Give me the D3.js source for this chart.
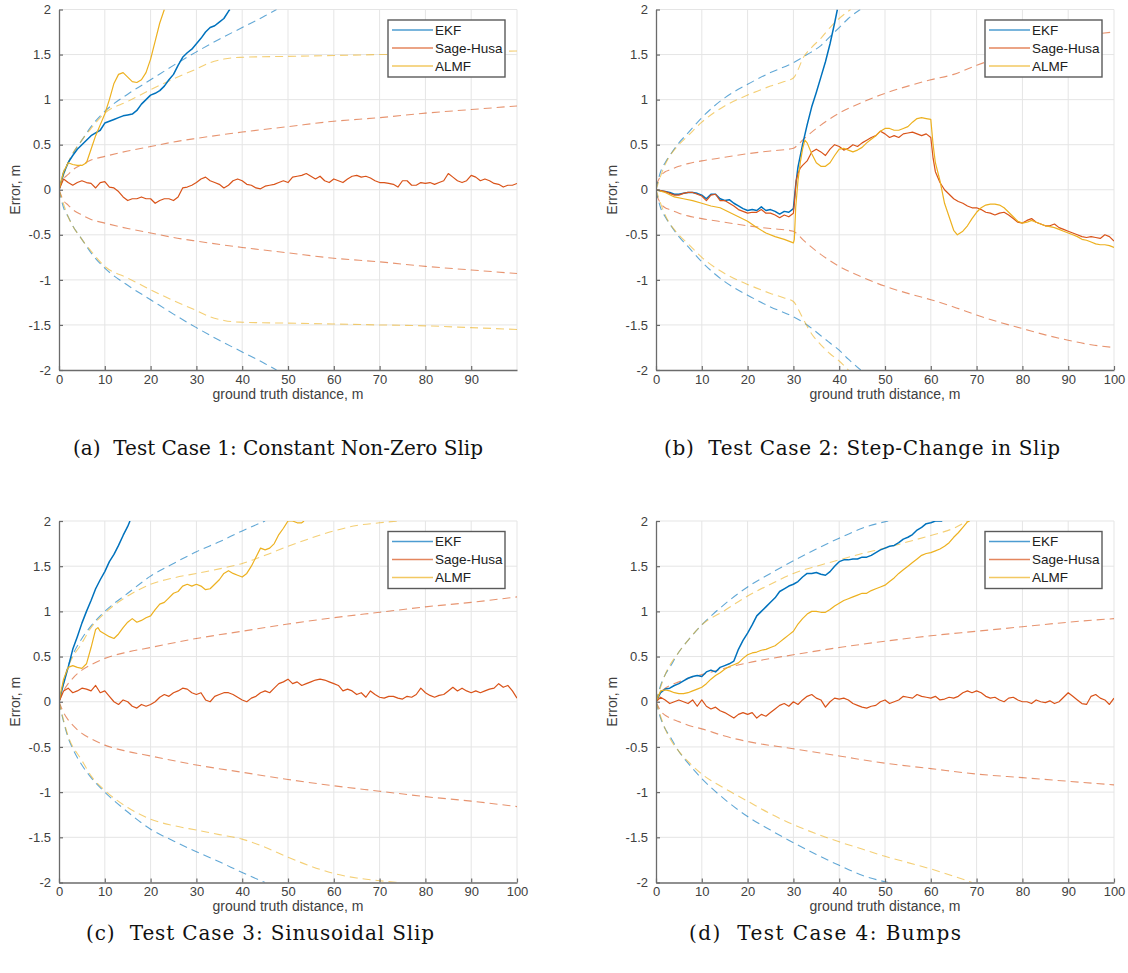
<!DOCTYPE html>
<html><head><meta charset="utf-8">
<script src="https://cdn.jsdelivr.net/npm/d3@7"></script>
<style>body{margin:0;background:#fff;}svg{display:block}</style>
</head><body>
<svg id="chart" width="1128" height="973"></svg>
<script>
// ---------------- DATA ----------------
const seriesNames = ["EKF", "Sage-Husa", "ALMF"];
const yTicks = [-2, -1.5, -1, -0.5, 0, 0.5, 1, 1.5, 2];
const yTickLabels = ["-2", "-1.5", "-1", "-0.5", "0", "0.5", "1", "1.5", "2"];
const xTicksA = [0, 10, 20, 30, 40, 50, 60, 70, 80, 90];
const xTicksFull = [0, 10, 20, 30, 40, 50, 60, 70, 80, 90, 100];
const captions = [
  "(a)  Test Case 1: Constant Non-Zero Slip",
  "(b)  Test Case 2: Step-Change in Slip",
  "(c)  Test Case 3: Sinusoidal Slip",
  "(d)  Test Case 4: Bumps"
];
const dist = d3.range(0, 101); // ground-truth distance samples (m) for dense series

// ---- (a) Constant Non-Zero Slip ----
const a_ekf = [[0,0],[1,0.18],[2,0.3],[3,0.38],[4,0.45],[5,0.5],[6,0.55],[7,0.6],[8,0.63],[9,0.66],[10,0.74],[11,0.76],[12,0.78],[13,0.8],[14,0.82],[15,0.83],[16,0.84],[17,0.88],[18,0.95],[19,1.0],[20,1.05],[21,1.07],[22,1.1],[23,1.15],[24,1.22],[25,1.28],[26,1.38],[27,1.47],[28,1.52],[29,1.56],[30,1.62],[31,1.68],[32,1.75],[33,1.8],[34,1.82],[35,1.86],[36,1.9],[37,1.98],[37.3,2.0]];
const a_sh = [0,0.12,0.08,0.05,0.08,0.1,0.08,0.07,0.02,0.08,0.09,0.03,0.02,-0.02,-0.08,-0.12,-0.1,-0.1,-0.08,-0.1,-0.1,-0.15,-0.12,-0.1,-0.1,-0.12,-0.08,0.02,0.03,0.05,0.08,0.12,0.14,0.1,0.08,0.06,0.02,0.05,0.1,0.12,0.1,0.06,0.05,0.02,0.01,0.04,0.05,0.06,0.08,0.1,0.08,0.14,0.15,0.16,0.18,0.15,0.12,0.15,0.1,0.08,0.12,0.1,0.08,0.12,0.15,0.16,0.14,0.15,0.13,0.1,0.08,0.08,0.07,0.06,0.03,0.1,0.1,0.05,0.05,0.08,0.07,0.08,0.06,0.08,0.1,0.18,0.14,0.1,0.08,0.1,0.16,0.14,0.1,0.12,0.1,0.07,0.06,0.03,0.05,0.05,0.07];
const a_almf = [[0,0],[1,0.2],[2,0.3],[3,0.28],[4,0.27],[5,0.27],[6,0.3],[7,0.45],[8,0.6],[9,0.72],[10,0.84],[11,1.0],[12,1.18],[13,1.28],[14,1.3],[15,1.25],[16,1.2],[17,1.19],[18,1.22],[19,1.3],[20,1.45],[21,1.65],[22,1.85],[23,2.0]];
const a_ekf_ub = [[0,0],[1,0.2],[2,0.3],[3,0.4],[5,0.55],[7,0.7],[10,0.87],[15,1.06],[20,1.22],[25,1.38],[30,1.53],[35,1.67],[40,1.8],[45,1.93],[47.5,2.0]];
const a_ekf_lb = [[0,0],[1,-0.2],[2,-0.3],[3,-0.4],[5,-0.55],[7,-0.7],[10,-0.87],[15,-1.06],[20,-1.22],[25,-1.38],[30,-1.53],[35,-1.67],[40,-1.8],[45,-1.93],[47.5,-2.0]];
const a_sh_ub = [[0,0],[1,0.12],[2,0.17],[3,0.22],[5,0.28],[7,0.33],[10,0.37],[15,0.43],[20,0.48],[25,0.53],[30,0.57],[40,0.64],[50,0.7],[60,0.76],[70,0.8],[80,0.85],[90,0.89],[100,0.93]];
const a_sh_lb = [[0,0],[1,-0.12],[2,-0.17],[3,-0.22],[5,-0.28],[7,-0.33],[10,-0.37],[15,-0.43],[20,-0.48],[25,-0.53],[30,-0.57],[40,-0.64],[50,-0.7],[60,-0.76],[70,-0.8],[80,-0.85],[90,-0.89],[100,-0.93]];
const a_almf_ub = [[0,0],[2,0.3],[5,0.55],[7,0.68],[10,0.85],[15,0.98],[20,1.11],[25,1.23],[30,1.34],[33,1.41],[36,1.45],[38,1.465],[40,1.47],[50,1.48],[60,1.49],[70,1.5],[80,1.51],[90,1.53],[100,1.54]];
const a_almf_lb = [[0,0],[2,-0.3],[5,-0.55],[7,-0.68],[10,-0.85],[15,-0.98],[20,-1.11],[25,-1.23],[30,-1.34],[33,-1.41],[36,-1.45],[38,-1.465],[40,-1.47],[50,-1.48],[60,-1.49],[70,-1.5],[80,-1.51],[90,-1.53],[100,-1.55]];

// ---- (b) Step-Change in Slip ----
const b_ekf = [[0,0],[1,-0.01],[2,-0.02],[3,-0.03],[4,-0.05],[5,-0.05],[6,-0.04],[7,-0.03],[8,-0.03],[9,-0.04],[10,-0.06],[11,-0.1],[12,-0.05],[13,-0.05],[14,-0.1],[15,-0.12],[16,-0.11],[17,-0.15],[18,-0.18],[19,-0.21],[20,-0.23],[21,-0.22],[22,-0.23],[23,-0.19],[24,-0.23],[25,-0.22],[26,-0.24],[27,-0.27],[28,-0.24],[29,-0.25],[30,-0.21],[30.5,0.05],[31,0.25],[32,0.5],[33,0.72],[34,0.92],[35,1.08],[36,1.25],[37,1.42],[38,1.62],[39,1.85],[39.6,2.0]];
const b_sh = [[0,0],[1,-0.01],[2,-0.02],[3,-0.04],[4,-0.06],[5,-0.06],[6,-0.04],[7,-0.03],[8,-0.03],[9,-0.05],[10,-0.07],[11,-0.12],[12,-0.06],[13,-0.05],[14,-0.12],[15,-0.12],[16,-0.15],[17,-0.18],[18,-0.22],[19,-0.24],[20,-0.26],[21,-0.25],[22,-0.25],[23,-0.22],[24,-0.26],[25,-0.26],[26,-0.28],[27,-0.31],[28,-0.28],[29,-0.3],[30,-0.26],[30.3,-0.1],[30.6,0.1],[31,0.18],[31.5,0.24],[32,0.27],[33,0.32],[34,0.42],[35,0.45],[36,0.42],[37,0.38],[38,0.45],[39,0.5],[40,0.48],[41,0.44],[42,0.46],[43,0.5],[44,0.48],[45,0.52],[46,0.55],[47,0.58],[48,0.6],[49,0.65],[50,0.62],[51,0.58],[52,0.6],[53,0.58],[54,0.62],[55,0.63],[56,0.64],[57,0.62],[58,0.6],[59,0.62],[60,0.58],[60.5,0.35],[61,0.2],[62,0.08],[63,0.0],[64,-0.05],[65,-0.1],[66,-0.13],[67,-0.15],[68,-0.18],[69,-0.2],[70,-0.2],[71,-0.22],[72,-0.25],[73,-0.26],[74,-0.28],[75,-0.26],[76,-0.25],[77,-0.28],[78,-0.32],[79,-0.36],[80,-0.37],[81,-0.34],[82,-0.32],[83,-0.36],[84,-0.38],[85,-0.4],[86,-0.4],[87,-0.38],[88,-0.42],[89,-0.44],[90,-0.46],[91,-0.48],[92,-0.5],[93,-0.52],[94,-0.53],[95,-0.52],[96,-0.53],[97,-0.54],[98,-0.5],[99,-0.52],[100,-0.57]];
const b_almf = [[0,0],[2,-0.03],[4,-0.08],[6,-0.1],[8,-0.12],[10,-0.15],[12,-0.18],[14,-0.2],[16,-0.25],[18,-0.3],[20,-0.35],[22,-0.42],[24,-0.48],[26,-0.52],[28,-0.55],[30,-0.59],[30.2,-0.55],[30.5,-0.2],[31,0.1],[31.5,0.3],[32,0.45],[32.5,0.55],[33,0.52],[34,0.4],[35,0.3],[36,0.26],[37,0.26],[38,0.3],[39,0.38],[40,0.45],[41,0.46],[42,0.44],[43,0.42],[44,0.44],[45,0.47],[46,0.52],[47,0.56],[48,0.6],[49,0.65],[50,0.68],[51,0.68],[52,0.66],[53,0.66],[54,0.68],[55,0.7],[56,0.75],[57,0.79],[58,0.8],[59,0.79],[60,0.78],[60.5,0.5],[61,0.3],[62,0.1],[63,-0.15],[64,-0.3],[65,-0.45],[65.8,-0.5],[67,-0.46],[68,-0.4],[69,-0.32],[70,-0.25],[71,-0.2],[72,-0.17],[73,-0.16],[74,-0.16],[75,-0.17],[76,-0.2],[77,-0.25],[78,-0.3],[79,-0.35],[80,-0.37],[81,-0.36],[82,-0.34],[83,-0.36],[84,-0.38],[85,-0.4],[86,-0.41],[87,-0.42],[88,-0.44],[89,-0.46],[90,-0.48],[91,-0.5],[92,-0.52],[93,-0.55],[94,-0.56],[95,-0.58],[96,-0.6],[97,-0.61],[98,-0.61],[99,-0.62],[100,-0.64]];
const b_ekf_ub = [[0,0],[1,0.2],[2,0.3],[3,0.38],[5,0.52],[7,0.63],[10,0.8],[15,1.02],[20,1.17],[25,1.3],[30,1.41],[33,1.5],[36,1.6],[38,1.7],[40,1.8],[42,1.9],[44.6,2.0]];
const b_ekf_lb = [[0,0],[1,-0.2],[2,-0.3],[3,-0.38],[5,-0.52],[7,-0.63],[10,-0.8],[15,-1.02],[20,-1.17],[25,-1.3],[30,-1.41],[33,-1.5],[36,-1.62],[38,-1.7],[40,-1.78],[42,-1.88],[44.7,-2.0]];
const b_sh_ub = [[0,0.05],[1,0.15],[2,0.2],[3,0.22],[5,0.26],[7,0.29],[10,0.32],[15,0.36],[20,0.4],[25,0.43],[30,0.46],[31,0.5],[32,0.55],[35,0.68],[40,0.85],[45,0.97],[50,1.07],[55,1.15],[60,1.22],[65,1.28],[70,1.38],[75,1.47],[80,1.54],[85,1.61],[90,1.67],[95,1.72],[100,1.75]];
const b_sh_lb = [[0,-0.05],[1,-0.15],[2,-0.2],[3,-0.22],[5,-0.26],[7,-0.29],[10,-0.32],[15,-0.36],[20,-0.4],[25,-0.43],[30,-0.46],[31,-0.5],[32,-0.55],[35,-0.68],[40,-0.85],[45,-0.97],[50,-1.07],[55,-1.15],[60,-1.22],[65,-1.3],[70,-1.39],[75,-1.47],[80,-1.54],[85,-1.61],[90,-1.67],[95,-1.72],[100,-1.75]];
const b_almf_ub = [[0,0],[2,0.28],[5,0.5],[7,0.6],[10,0.75],[15,0.93],[20,1.05],[25,1.15],[28,1.2],[30,1.24],[31,1.33],[32,1.45],[34,1.58],[36,1.68],[38,1.8],[40,1.9],[42.5,2.0]];
const b_almf_lb = [[0,0],[2,-0.28],[5,-0.5],[7,-0.6],[10,-0.75],[15,-0.93],[20,-1.05],[25,-1.15],[28,-1.2],[30,-1.24],[31,-1.32],[32,-1.42],[34,-1.6],[36,-1.72],[38,-1.82],[40,-1.9],[42,-2.0]];

// ---- (c) Sinusoidal Slip ----
const c_ekf = [[0,0],[1,0.2],[2,0.38],[3,0.58],[4,0.72],[5,0.87],[6,1.0],[7,1.12],[8,1.25],[9,1.35],[10,1.44],[11,1.55],[12,1.63],[13,1.73],[14,1.84],[15,1.94],[15.5,2.0]];
const c_sh = [0,0.12,0.15,0.1,0.12,0.15,0.14,0.12,0.18,0.1,0.12,0.06,0.0,-0.03,0.02,0.0,-0.05,-0.07,-0.03,-0.05,-0.03,0.0,0.05,0.08,0.06,0.1,0.12,0.15,0.14,0.1,0.08,0.1,0.02,0.0,0.06,0.08,0.1,0.1,0.08,0.05,0.02,0.0,0.04,0.06,0.1,0.12,0.1,0.15,0.2,0.22,0.25,0.2,0.22,0.18,0.2,0.22,0.24,0.25,0.24,0.22,0.2,0.18,0.12,0.14,0.12,0.08,0.1,0.05,0.12,0.08,0.05,0.04,0.06,0.06,0.04,0.03,0.06,0.05,0.08,0.15,0.1,0.07,0.05,0.07,0.08,0.12,0.16,0.12,0.15,0.12,0.1,0.12,0.1,0.12,0.14,0.15,0.2,0.16,0.18,0.12,0.04];
const c_almf = [[0,0],[1,0.25],[2,0.38],[3,0.4],[4,0.38],[5,0.37],[6,0.42],[7,0.6],[8,0.8],[8.5,0.82],[9,0.78],[10,0.75],[11,0.72],[12,0.7],[13,0.75],[14,0.82],[15,0.88],[16,0.92],[17,0.88],[18,0.9],[19,0.93],[20,0.95],[21,1.02],[22,1.08],[23,1.1],[24,1.15],[25,1.2],[26,1.22],[27,1.28],[28,1.3],[29,1.28],[30,1.3],[31,1.28],[32,1.24],[33,1.25],[34,1.3],[35,1.35],[36,1.42],[37,1.45],[38,1.42],[39,1.4],[40,1.38],[41,1.42],[42,1.5],[43,1.6],[44,1.7],[45,1.68],[46,1.7],[47,1.75],[48,1.85],[49,1.92],[50,2.0],[51,2.0],[52,1.98],[53,1.98],[53.5,2.0]];
const c_ekf_ub = [[0,0],[1,0.22],[2,0.4],[3,0.52],[5,0.7],[7,0.84],[10,1.0],[15,1.2],[20,1.39],[25,1.53],[30,1.66],[35,1.77],[40,1.89],[45,2.0]];
const c_ekf_lb = [[0,0],[1,-0.22],[2,-0.4],[3,-0.52],[5,-0.7],[7,-0.84],[10,-1.0],[15,-1.22],[20,-1.41],[25,-1.54],[30,-1.66],[35,-1.77],[40,-1.89],[45,-2.0]];
const c_sh_ub = [[0,0],[1,0.12],[2,0.2],[3,0.26],[5,0.35],[7,0.41],[10,0.48],[15,0.55],[20,0.6],[30,0.7],[40,0.78],[50,0.86],[60,0.93],[70,0.99],[80,1.05],[90,1.1],[100,1.16]];
const c_sh_lb = [[0,0],[1,-0.12],[2,-0.2],[3,-0.26],[5,-0.35],[7,-0.41],[10,-0.48],[15,-0.55],[20,-0.6],[30,-0.7],[40,-0.78],[50,-0.86],[60,-0.93],[70,-0.99],[80,-1.05],[90,-1.1],[100,-1.16]];
const c_almf_ub = [[0,0],[2,0.38],[5,0.65],[7,0.82],[10,0.98],[15,1.17],[20,1.3],[25,1.37],[30,1.42],[35,1.47],[40,1.53],[45,1.62],[50,1.72],[55,1.81],[60,1.89],[65,1.95],[70,1.98],[74,2.0]];
const c_almf_lb = [[0,0],[2,-0.38],[5,-0.65],[7,-0.82],[10,-0.98],[15,-1.17],[20,-1.3],[25,-1.37],[30,-1.42],[35,-1.47],[40,-1.52],[45,-1.61],[50,-1.72],[55,-1.82],[60,-1.9],[65,-1.95],[70,-1.98],[74,-2.0]];

// ---- (d) Bumps ----
const d_ekf = [[0,0],[1,0.1],[2,0.14],[3,0.15],[4,0.18],[5,0.2],[6,0.23],[7,0.26],[8,0.28],[9,0.29],[10,0.28],[11,0.33],[12,0.35],[13,0.33],[14,0.38],[15,0.4],[16,0.42],[17,0.45],[18,0.58],[19,0.68],[20,0.76],[21,0.85],[22,0.95],[23,1.0],[24,1.05],[25,1.1],[26,1.15],[27,1.22],[28,1.25],[29,1.28],[30,1.3],[31,1.33],[32,1.38],[33,1.42],[34,1.42],[35,1.43],[36,1.41],[37,1.4],[38,1.44],[39,1.5],[40,1.55],[41,1.57],[42,1.57],[43,1.58],[44,1.58],[45,1.6],[46,1.6],[47,1.62],[48,1.65],[49,1.68],[50,1.7],[51,1.72],[52,1.73],[53,1.76],[54,1.8],[55,1.82],[56,1.85],[57,1.9],[58,1.93],[59,1.97],[60,1.98],[61,2.0],[62.5,2.0]];
const d_sh = [0,0.05,0.02,-0.02,0.0,0.02,0.0,-0.02,0.02,-0.05,0.02,-0.05,-0.08,-0.06,-0.1,-0.12,-0.15,-0.18,-0.14,-0.12,-0.14,-0.12,-0.18,-0.14,-0.16,-0.12,-0.08,-0.04,-0.02,-0.05,0.0,-0.03,0.02,0.06,0.08,0.04,0.02,-0.06,0.0,0.04,0.03,0.04,0.02,-0.02,-0.04,-0.06,-0.07,-0.05,-0.04,0.0,0.02,-0.02,0.0,0.02,0.06,0.05,0.04,0.08,0.06,0.05,0.04,0.06,0.02,0.03,0.05,0.04,0.06,0.1,0.12,0.1,0.12,0.1,0.06,0.04,0.05,0.02,0.0,0.04,0.05,0.02,0.0,0.0,-0.02,0.02,0.0,-0.01,0.01,-0.02,0.0,0.05,0.1,0.06,0.02,-0.02,-0.03,0.06,0.08,0.04,0.02,-0.03,0.04];
const d_almf = [[0,0],[1,0.12],[2,0.13],[3,0.12],[4,0.1],[5,0.09],[6,0.09],[7,0.1],[8,0.12],[9,0.14],[10,0.16],[11,0.2],[12,0.25],[13,0.29],[14,0.32],[15,0.36],[16,0.39],[17,0.41],[18,0.43],[19,0.48],[20,0.52],[21,0.54],[22,0.55],[23,0.57],[24,0.58],[25,0.6],[26,0.62],[27,0.66],[28,0.7],[29,0.74],[30,0.78],[31,0.86],[32,0.92],[33,0.97],[34,1.0],[35,1.0],[36,0.99],[37,0.99],[38,1.02],[39,1.06],[40,1.09],[41,1.12],[42,1.14],[43,1.16],[44,1.18],[45,1.2],[46,1.2],[47,1.23],[48,1.25],[49,1.27],[50,1.29],[51,1.33],[52,1.37],[53,1.42],[54,1.46],[55,1.5],[56,1.54],[57,1.58],[58,1.62],[59,1.64],[60,1.65],[61,1.67],[62,1.69],[63,1.72],[64,1.76],[65,1.82],[66,1.87],[67,1.93],[68,1.99],[68.5,2.0]];
const d_ekf_ub = [[0,0],[1,0.18],[2,0.3],[3,0.38],[5,0.55],[7,0.68],[10,0.85],[15,1.08],[20,1.27],[25,1.42],[30,1.56],[35,1.69],[40,1.81],[45,1.92],[50.7,2.0]];
const d_ekf_lb = [[0,0],[1,-0.18],[2,-0.3],[3,-0.38],[5,-0.55],[7,-0.68],[10,-0.85],[15,-1.08],[20,-1.27],[25,-1.42],[30,-1.56],[35,-1.69],[40,-1.81],[45,-1.92],[50.7,-2.0]];
const d_sh_ub = [[0,0],[1,0.1],[2,0.15],[3,0.18],[5,0.22],[7,0.26],[10,0.3],[15,0.37],[20,0.43],[30,0.52],[40,0.6],[50,0.67],[60,0.73],[70,0.78],[80,0.83],[90,0.88],[100,0.92]];
const d_sh_lb = [[0,0],[1,-0.1],[2,-0.15],[3,-0.18],[5,-0.22],[7,-0.26],[10,-0.3],[15,-0.38],[20,-0.44],[30,-0.52],[40,-0.6],[50,-0.68],[60,-0.74],[70,-0.8],[80,-0.84],[90,-0.88],[100,-0.92]];
const d_almf_ub = [[0,0],[2,0.3],[5,0.55],[7,0.68],[10,0.85],[15,1.01],[20,1.17],[25,1.3],[30,1.42],[35,1.5],[40,1.57],[45,1.64],[50,1.7],[55,1.77],[60,1.84],[65,1.92],[68,2.0]];
const d_almf_lb = [[0,0],[2,-0.3],[5,-0.55],[7,-0.66],[10,-0.8],[15,-0.96],[20,-1.1],[25,-1.24],[30,-1.36],[35,-1.46],[40,-1.55],[45,-1.63],[50,-1.71],[55,-1.78],[60,-1.85],[65,-1.93],[69,-2.0]];

// ---------------- LAYOUT / STYLE ----------------
const colors = {"EKF": "#0072BD", "Sage-Husa": "#D95319", "ALMF": "#EDB120"};
const axisFont = "'Liberation Sans', Arial, sans-serif";
const capFont = "'DejaVu Serif', serif";

const withDist = arr => arr.map((v, i) => [dist[i], v]);

const panels = [
  {left: 59, top: 9.5, width: 458, height: 360.5, xTicks: xTicksA, caption: captions[0], capX: 278, capY: 455, capW: 410,
   solid: {"EKF": a_ekf, "Sage-Husa": withDist(a_sh), "ALMF": a_almf},
   bounds: {"EKF": [a_ekf_ub, a_ekf_lb], "Sage-Husa": [a_sh_ub, a_sh_lb], "ALMF": [a_almf_ub, a_almf_lb]}},
  {left: 656, top: 9.5, width: 458, height: 360.5, xTicks: xTicksFull, caption: captions[1], capX: 862, capY: 455, capW: 396,
   solid: {"EKF": b_ekf, "Sage-Husa": b_sh, "ALMF": b_almf},
   bounds: {"EKF": [b_ekf_ub, b_ekf_lb], "Sage-Husa": [b_sh_ub, b_sh_lb], "ALMF": [b_almf_ub, b_almf_lb]}},
  {left: 59, top: 521, width: 458, height: 361.5, xTicks: xTicksFull, caption: captions[2], capX: 260, capY: 940, capW: 348,
   solid: {"EKF": c_ekf, "Sage-Husa": withDist(c_sh), "ALMF": c_almf},
   bounds: {"EKF": [c_ekf_ub, c_ekf_lb], "Sage-Husa": [c_sh_ub, c_sh_lb], "ALMF": [c_almf_ub, c_almf_lb]}},
  {left: 656, top: 521, width: 458, height: 361.5, xTicks: xTicksFull, caption: captions[3], capX: 825, capY: 940, capW: 272,
   solid: {"EKF": d_ekf, "Sage-Husa": withDist(d_sh), "ALMF": d_almf},
   bounds: {"EKF": [d_ekf_ub, d_ekf_lb], "Sage-Husa": [d_sh_ub, d_sh_lb], "ALMF": [d_almf_ub, d_almf_lb]}}
];

const svg = d3.select("#chart");
svg.append("rect").attr("width", 1128).attr("height", 973).attr("fill", "#fff");

panels.forEach((p, pi) => {
  const x = d3.scaleLinear().domain([0, 100]).range([0, p.width]);
  const y = d3.scaleLinear().domain([-2, 2]).range([p.height, 0]);
  const g = svg.append("g").attr("transform", `translate(${p.left},${p.top})`);

  // grid
  const grid = g.append("g");
  grid.selectAll(".vg").data(p.xTicks.filter(t => t > 0).concat(pi === 0 ? [100] : [])).join("line")
    .attr("x1", d => x(d)).attr("x2", d => x(d)).attr("y1", 0).attr("y2", p.height)
    .attr("stroke", "#e5e5e5").attr("stroke-width", 1);
  grid.selectAll(".hg").data(yTicks.filter(t => t > -2)).join("line")
    .attr("x1", 0).attr("x2", p.width).attr("y1", d => y(d)).attr("y2", d => y(d))
    .attr("stroke", "#e5e5e5").attr("stroke-width", 1);

  // clip
  const clipId = "clip" + pi;
  g.append("clipPath").attr("id", clipId).append("rect")
    .attr("x", 0).attr("y", 0).attr("width", p.width).attr("height", p.height);
  const plot = g.append("g").attr("clip-path", `url(#${clipId})`);

  const line = d3.line().x(d => x(d[0])).y(d => y(d[1]));
  const smooth = d3.line().x(d => x(d[0])).y(d => y(d[1])).curve(d3.curveMonotoneX);

  // dashed bounds
  ["Sage-Husa", "EKF", "ALMF"].forEach(name => {
    p.bounds[name].forEach(b => {
      plot.append("path").datum(b).attr("d", smooth)
        .attr("fill", "none").attr("stroke", colors[name]).attr("stroke-opacity", 0.62)
        .attr("stroke-width", 1.1).attr("stroke-dasharray", "8,5");
    });
  });
  // solid estimates
  seriesNames.forEach(name => {
    plot.append("path").datum(p.solid[name]).attr("d", line)
      .attr("fill", "none").attr("stroke", colors[name])
      .attr("stroke-width", name === "EKF" ? 1.5 : 1.2).attr("stroke-linejoin", "round");
  });

  // axes
  const xAxis = d3.axisBottom(x).tickValues(p.xTicks).tickSize(-4).tickSizeOuter(0).tickPadding(4)
    .tickFormat(d3.format("d"));
  const gx = g.append("g").attr("transform", `translate(0,${p.height})`).call(xAxis);
  const yAxis = d3.axisLeft(y).tickValues(yTicks).tickSize(-4).tickSizeOuter(0).tickPadding(8)
    .tickFormat((d, i) => yTickLabels[i]);
  const gy = g.append("g").call(yAxis);
  [gx, gy].forEach(ax => {
    ax.select(".domain").attr("stroke", "#6b6b6b").attr("stroke-width", 1.3);
    ax.selectAll(".tick line").attr("stroke", "#6b6b6b").attr("stroke-width", 1.2);
    ax.selectAll(".tick text").attr("fill", "#404040").style("font-family", axisFont).style("font-size", "13px");
  });
  gx.selectAll(".tick text").attr("y", 0).attr("dy", "13.5");

  // axis titles
  g.append("text").attr("x", p.width / 2).attr("y", p.height + 28.5)
    .attr("text-anchor", "middle").attr("fill", "#404040")
    .style("font-family", axisFont).style("font-size", "14px").text("ground truth distance, m");
  g.append("text").attr("transform", `translate(${-39},${p.height / 2}) rotate(-90)`)
    .attr("text-anchor", "middle").attr("fill", "#404040")
    .style("font-family", axisFont).style("font-size", "14px").text("Error, m");

  // legend
  const lg = g.append("g").attr("transform", "translate(329,10.5)");
  lg.append("rect").attr("width", 117).attr("height", 57).attr("fill", "#fff")
    .attr("stroke", "#5a5a5a").attr("stroke-width", 1.4);
  seriesNames.forEach((name, i) => {
    const yy = 10 + i * 18;
    lg.append("line").attr("x1", 4).attr("x2", 45).attr("y1", yy).attr("y2", yy)
      .attr("stroke", colors[name]).attr("stroke-opacity", 0.7).attr("stroke-width", 1.3);
    lg.append("text").attr("x", 47).attr("y", yy + 4.8).attr("fill", "#202020")
      .style("font-family", axisFont).style("font-size", "13.5px").text(name);
  });

  // caption
  svg.append("text").attr("x", p.capX).attr("y", p.capY).attr("text-anchor", "middle")
    .attr("fill", "#111").style("font-family", capFont).style("font-size", "20px")
    .attr("textLength", p.capW).attr("lengthAdjust", "spacing")
    .attr("xml:space", "preserve").style("white-space", "pre").text(p.caption);
});
</script>
</body></html>
